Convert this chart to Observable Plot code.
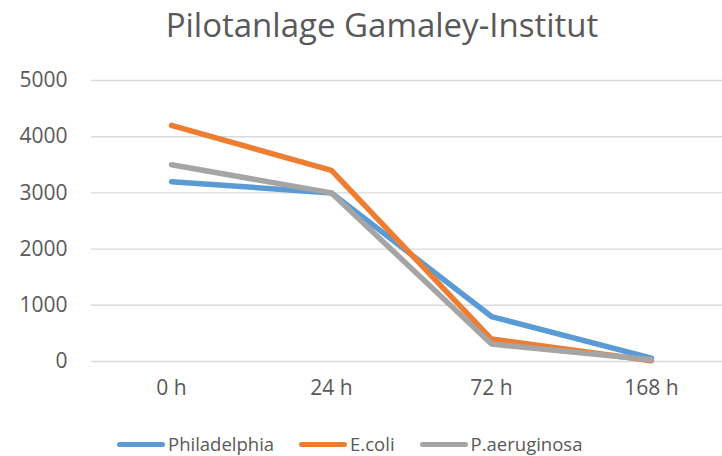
<!DOCTYPE html>
<html>
<head>
<meta charset="utf-8">
<script src="https://cdn.jsdelivr.net/npm/d3@7"></script>
<script src="https://cdn.jsdelivr.net/npm/@observablehq/plot@0.6"></script>
<style>
  html, body { margin: 0; background: #fff; font-family: "Open Sans", sans-serif; overflow: hidden; width: 722px; height: 456px; }
  #wrap { width: 722px; height: 456px; position: relative; overflow: hidden; }
  #title { position: absolute; top: 3px; left: 0; width: 722px; padding-left: 42px; box-sizing: border-box; text-align: center; font-size: 33px; line-height: 44px; color: #595959; white-space: nowrap; }
  #chart { position: absolute; top: 56px; left: 0; }
  #legend { position: absolute; top: 433px; left: 117px; height: 22px; display: flex; align-items: center; font-size: 18.5px; line-height: 22px; color: #595959; white-space: nowrap; }
  .item { display: flex; align-items: center; margin-right: 25px; }
  .sw { width: 48px; height: 5px; border-radius: 3px; margin-right: 3px; }
</style>
</head>
<body>
<div id="wrap">
  <div id="title">Pilotanlage Gamaley-Institut</div>
  <div id="chart"></div>
  <div id="legend"></div>
</div>
<script>
const categories = ["0 h", "24 h", "72 h", "168 h"];
const seriesNames = ["Philadelphia", "E.coli", "P.aeruginosa"];
const philadelphia = [3200, 3000, 800, 60];
const ecoli = [4200, 3400, 400, 15];
const paeruginosa = [3500, 3000, 310, 30];
const colors = ["#5B9BD5", "#ED7D31", "#A5A5A5"];
const yTicks = [0, 1000, 2000, 3000, 4000, 5000];

const allValues = [philadelphia, ecoli, paeruginosa];
const data = [];
seriesNames.forEach((s, i) => categories.forEach((c, j) => data.push({series: s, cat: c, value: allValues[i][j]})));

const chart = Plot.plot({
  width: 722,
  height: 345,
  marginTop: 24,
  marginBottom: 40,
  marginLeft: 91,
  marginRight: 0,
  style: { fontFamily: "Open Sans, sans-serif", fontSize: "21px", color: "#595959", background: "transparent" },
  x: { type: "point", domain: categories, padding: 0.5, range: [91, 731], label: null },
  y: { domain: [0, 5000], ticks: yTicks, label: null },
  color: { domain: seriesNames, range: colors },
  marks: [
    Plot.gridY(yTicks, { stroke: "#D9D9D9", strokeOpacity: 1, strokeWidth: 1.4 }),
    Plot.axisY(yTicks, { tickSize: 0, tickPadding: 24, fontSize: 21, fill: "#595959", tickFormat: d3.format("d"), label: null }),
    Plot.axisX({ tickSize: 0, tickPadding: 19, fontSize: 21, fill: "#595959", label: null }),
    Plot.line(data, { x: "cat", y: "value", z: "series", stroke: "series", strokeWidth: 5.5, strokeLinecap: "round", strokeLinejoin: "round" })
  ]
});
document.getElementById("chart").appendChild(chart);

const legend = document.getElementById("legend");
seriesNames.forEach((s, i) => {
  const item = document.createElement("div");
  item.className = "item";
  const sw = document.createElement("div");
  sw.className = "sw";
  sw.style.background = colors[i];
  const t = document.createElement("span");
  t.textContent = s;
  item.appendChild(sw);
  item.appendChild(t);
  legend.appendChild(item);
});
</script>
</body>
</html>
